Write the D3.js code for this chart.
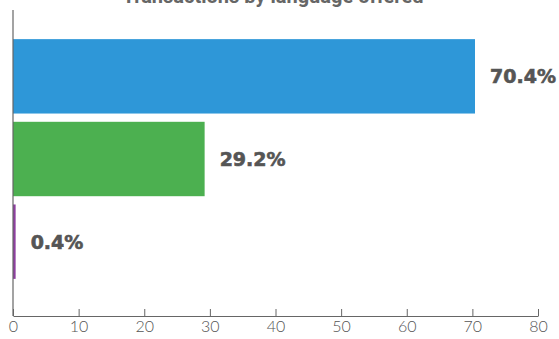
<!DOCTYPE html>
<html>
<head>
<meta charset="utf-8">
<script src="https://cdn.jsdelivr.net/npm/d3@7"></script>
<style>
  html, body { margin: 0; padding: 0; background: #fff; }
  svg { display: block; }
</style>
</head>
<body>
<div id="chart"></div>
<script>
// Chart data
const categories = ["Language A", "Language B", "Language C"];
const values = [70.4, 29.2, 0.4];
const barColors = ["#2E97D8", "#4CB050", "#8E3FA0"];
const xTicks = [0, 10, 20, 30, 40, 50, 60, 70, 80];
const title = "Transactions by language offered";

const width = 559, height = 339;

const svg = d3.select("#chart").append("svg")
    .attr("width", width)
    .attr("height", height);

const x = d3.scaleLinear().domain([0, 80]).range([13, 538]);
const y = d3.scaleBand().domain(categories).range([35, 283])
    .paddingInner(0.1).paddingOuter(0.05);

// title (cropped at the top like the original)
svg.append("text")
    .attr("x", 273)
    .attr("y", 3)
    .attr("text-anchor", "middle")
    .attr("font-family", "Roboto, sans-serif")
    .attr("font-weight", "bold")
    .attr("font-size", "20px")
    .attr("fill", "#666")
    .text(title);

// bars
svg.append("g")
  .selectAll("rect")
  .data(values)
  .join("rect")
    .attr("x", x(0))
    .attr("y", (d, i) => y(categories[i]))
    .attr("width", d => x(d) - x(0))
    .attr("height", y.bandwidth())
    .attr("fill", (d, i) => barColors[i]);

// value labels
svg.append("g")
  .selectAll("text")
  .data(values)
  .join("text")
    .attr("x", d => x(d) + 15)
    .attr("y", (d, i) => y(categories[i]) + y.bandwidth() / 2)
    .attr("dy", "0.36em")
    .attr("font-family", "'DejaVu Sans', sans-serif")
    .attr("font-weight", "bold")
    .attr("font-size", "19px")
    .attr("stroke", "#555")
    .attr("stroke-width", 0.6)
    .attr("fill", "#555")
    .text(d => d.toFixed(1) + "%");

// y axis line
svg.append("line")
    .attr("x1", x(0)).attr("x2", x(0))
    .attr("y1", 10).attr("y2", 316)
    .attr("stroke", "#666")
    .attr("stroke-width", 1.2);

// x axis
const xAxis = svg.append("g")
    .attr("transform", "translate(0,316)")
    .call(d3.axisBottom(x).tickValues(xTicks).tickSize(-7).tickPadding(5).tickSizeOuter(0));

xAxis.select(".domain").attr("stroke", "#666").attr("stroke-width", 1.2);
xAxis.selectAll(".tick line").attr("stroke", "#666");
xAxis.selectAll(".tick text")
    .attr("y", 5)
    .attr("dy", "0.71em")
    .attr("font-family", "Lato, sans-serif")
    .attr("font-weight", 300)
    .attr("font-size", "16px")
    .attr("fill", "#555");
</script>
</body>
</html>
